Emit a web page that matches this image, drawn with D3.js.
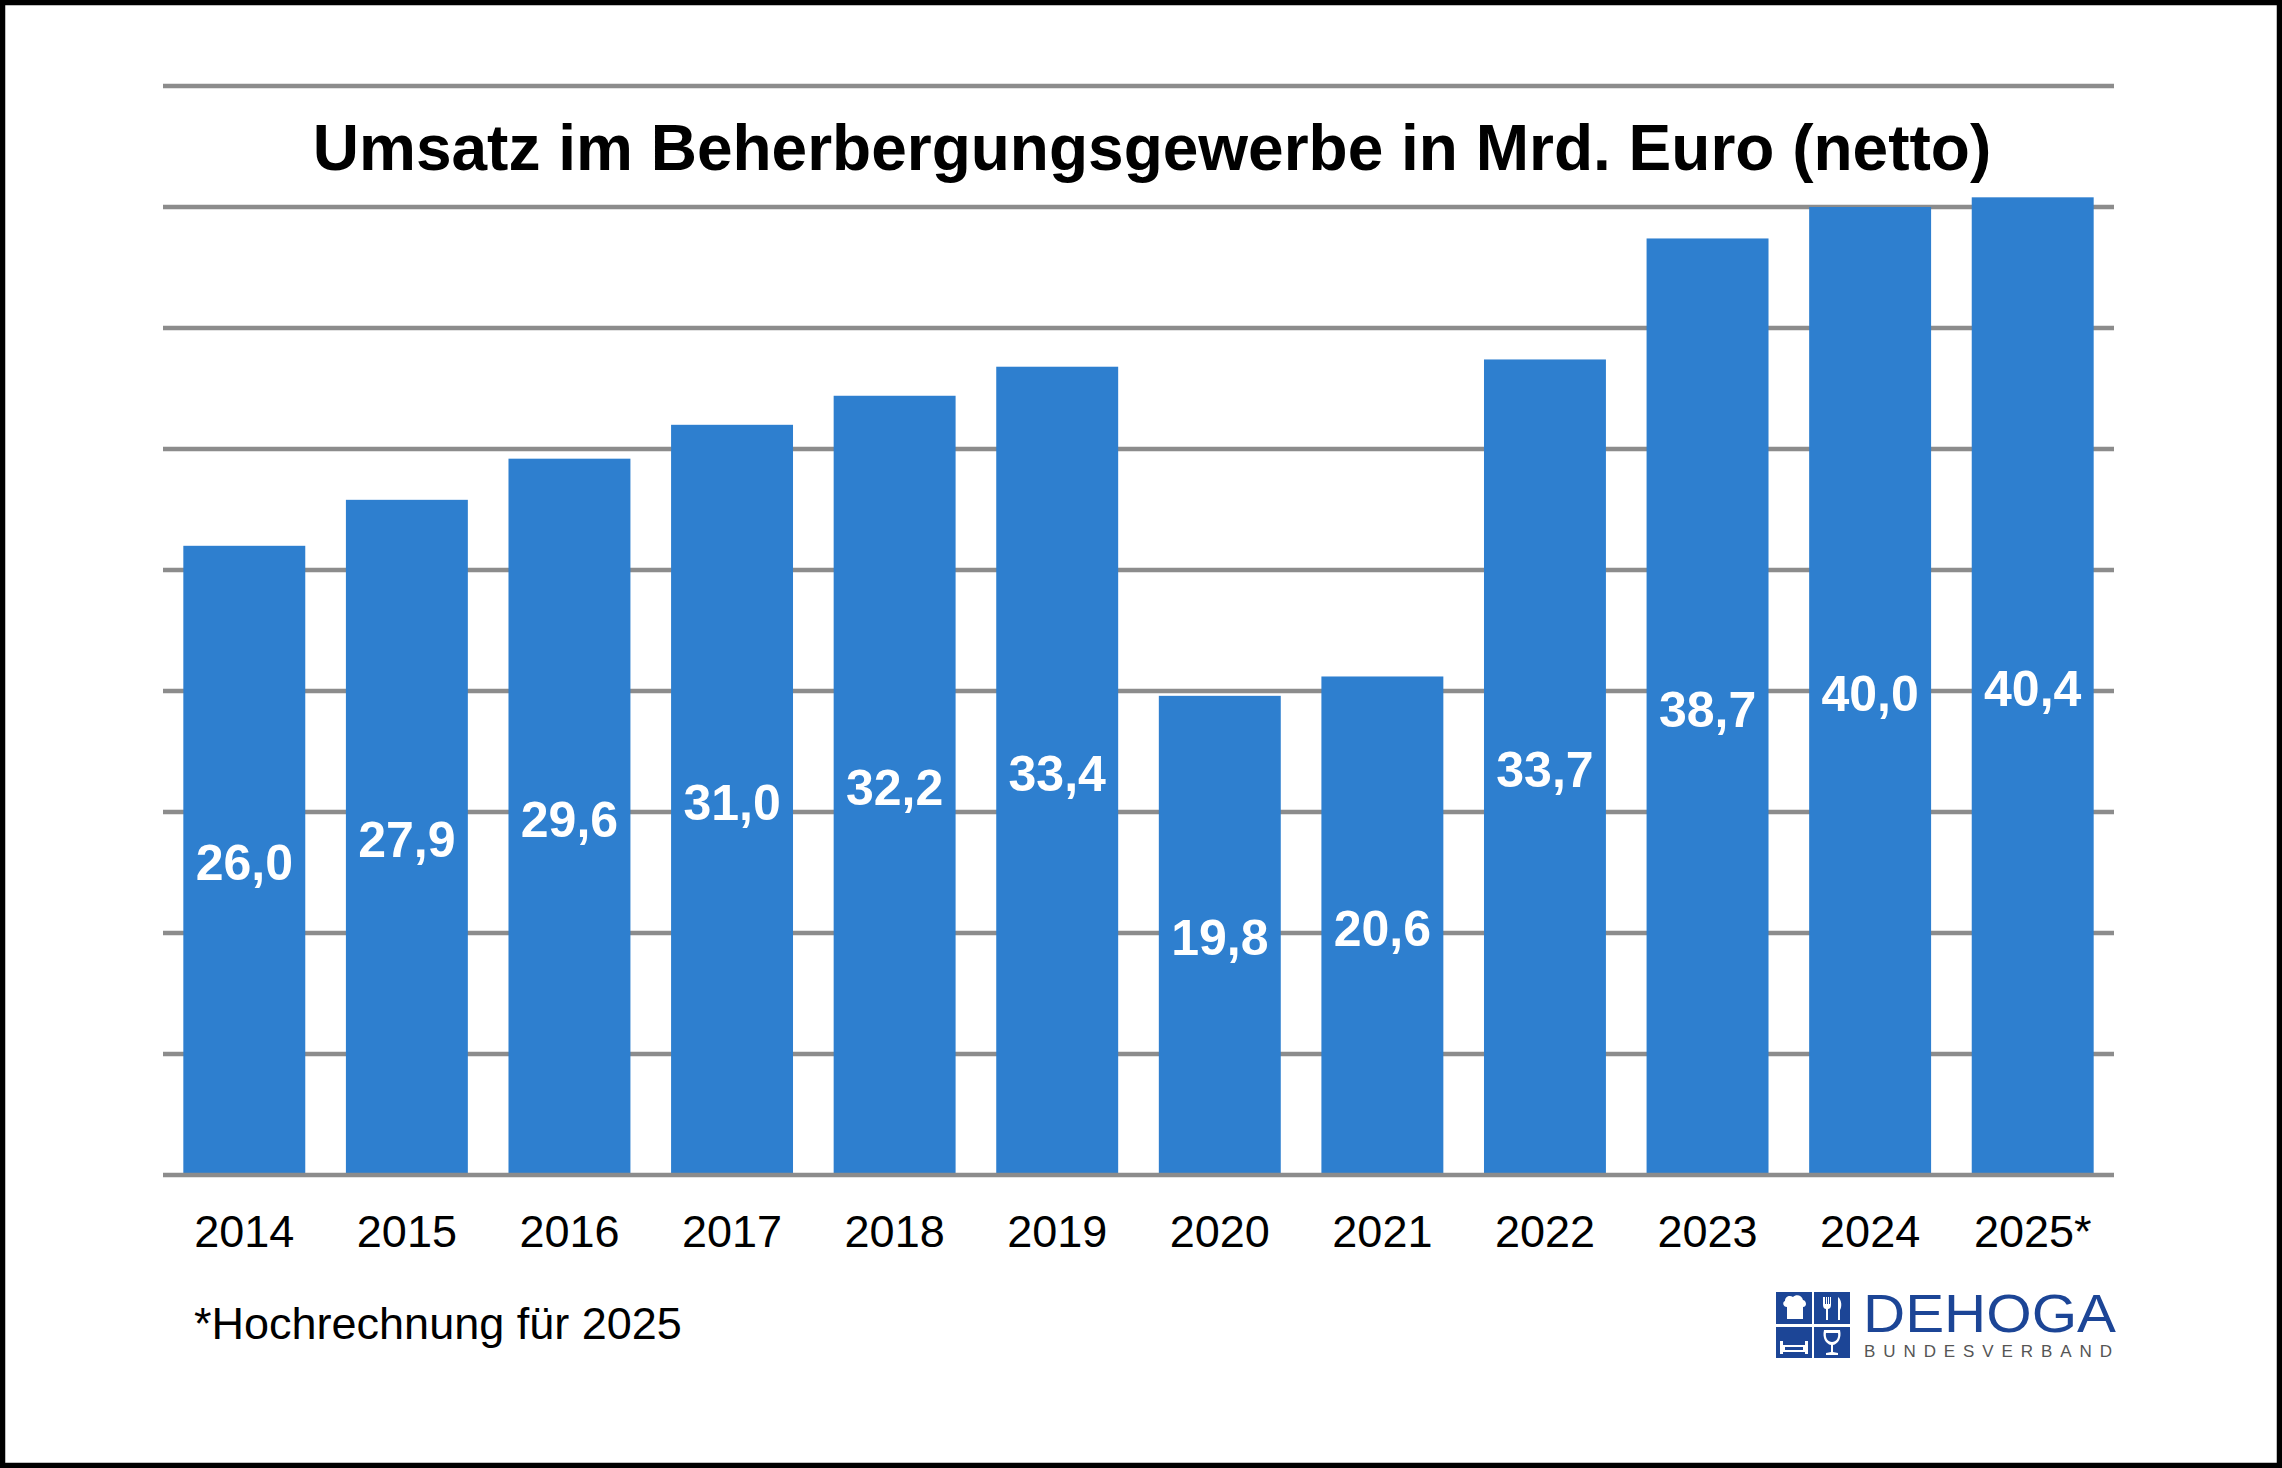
<!DOCTYPE html>
<html>
<head>
<meta charset="utf-8">
<script src="https://cdn.jsdelivr.net/npm/d3@7"></script>
<style>
  html, body { margin: 0; padding: 0; background: #fff; }
  svg { display: block; }
</style>
</head>
<body>
<div class="bar-chart"></div>
<script>
// Umsatz im Beherbergungsgewerbe, Mrd. Euro netto
let years = ['2014', '2015', '2016', '2017', '2018', '2019', '2020', '2021', '2022', '2023', '2024', '2025*'];
let umsatz = [26.0, 27.9, 29.6, 31.0, 32.2, 33.4, 19.8, 20.6, 33.7, 38.7, 40.0, 40.4];
let gridValues = [0, 5, 10, 15, 20, 25, 30, 35, 40, 45];

let titleText = 'Umsatz im Beherbergungsgewerbe in Mrd. Euro (netto)';
let footnoteText = '*Hochrechnung für 2025';

const config = {
  width: 2282,
  height: 1468,
  plot: { left: 163, right: 2114, top: 86, bottom: 1175 },
  colors: { bar: '#2e7fcf', grid: '#8c8c8c', logo: '#1c4596', text: '#000' }
};

const de = d3.formatLocale({ decimal: ',', thousands: '.', grouping: [3], currency: ['', ' €'] });
const fmt = de.format('.1f');

function drawLogo(svg) {
  let g = svg.append('g').attr('transform', 'translate(1776,1292)');
  let quads = [[0, 0, 36, 32], [38, 0, 36, 32], [0, 35, 36, 31], [38, 35, 36, 31]];
  g.selectAll('rect.q').data(quads).enter().append('rect')
    .attr('class', 'q')
    .attr('x', d => d[0]).attr('y', d => d[1])
    .attr('width', d => d[2]).attr('height', d => d[3])
    .attr('fill', config.colors.logo);

  // chef hat / mug
  g.append('path')
    .attr('d', 'M9,9 C9,4 14,3 17,5 C20,2 26,3 27,8 C31,9 31,15 27,15 L27,27 L11,27 L11,15 C7,15 6,10 9,9 Z')
    .attr('fill', '#fff');
  // fork and knife
  g.append('path')
    .attr('d', 'M47,5 L47,13 C47,16 49,17 50,17 L50,28 L52,28 L52,17 C53,17 55,16 55,13 L55,5 L54,5 L54,12 L53,12 L53,5 L52,5 L52,12 L51,12 L51,5 L50,5 L50,12 L49,12 L49,5 Z')
    .attr('fill', '#fff');
  g.append('path')
    .attr('d', 'M62,5 C66,8 66,15 64,18 L64,28 L62,28 Z')
    .attr('fill', '#fff');
  // bed
  g.append('path')
    .attr('d', 'M4,49 L7,49 L7,53 L29,53 L29,49 L32,49 L32,62 L29,62 L29,60 L7,60 L7,62 L4,62 Z')
    .attr('fill', '#fff');
  g.append('rect').attr('x', 9).attr('y', 55).attr('width', 18).attr('height', 3).attr('fill', config.colors.logo);
  // wine glass
  g.append('path')
    .attr('d', 'M48,38 L64,38 C66,46 62,52 57,53 L57,60 L62,61 L62,63 L50,63 L50,61 L55,60 L55,53 C50,52 46,46 48,38 Z')
    .attr('fill', '#fff');
  g.append('path')
    .attr('d', 'M50,41 L62,41 C63,46 60,50 56,50 C52,50 49,46 50,41 Z')
    .attr('fill', config.colors.logo);

  svg.append('text')
    .attr('x', 1863).attr('y', 1332)
    .attr('font-family', 'Liberation Sans, Arial, sans-serif')
    .attr('font-size', 54)
    .attr('textLength', 253)
    .attr('lengthAdjust', 'spacingAndGlyphs')
    .attr('fill', config.colors.logo)
    .text('DEHOGA');

  svg.append('text')
    .attr('x', 1864).attr('y', 1357)
    .attr('font-family', 'Liberation Sans, Arial, sans-serif')
    .attr('font-size', 17)
    .attr('textLength', 248)
    .attr('lengthAdjust', 'spacing')
    .attr('fill', '#555')
    .text('BUNDESVERBAND');
}

function renderChart() {
  let p = config.plot;

  let svg = d3.select('.bar-chart').append('svg')
    .attr('width', config.width)
    .attr('height', config.height);

  svg.append('rect')
    .attr('width', config.width).attr('height', config.height)
    .attr('fill', '#fff');

  let x = d3.scaleBand()
    .domain(years)
    .range([p.left, p.right])
    .paddingInner(0.25)
    .paddingOuter(0.125);

  let y = d3.scaleLinear()
    .domain([0, 45])
    .range([p.bottom, p.top]);

  // gridlines behind the bars
  svg.append('g').selectAll('line')
    .data(gridValues.filter(v => v > 0))
    .enter().append('line')
    .attr('x1', p.left).attr('x2', p.right)
    .attr('y1', d => y(d)).attr('y2', d => y(d))
    .attr('stroke', config.colors.grid)
    .attr('stroke-width', 4.5);

  svg.append('g').selectAll('rect')
    .data(umsatz)
    .enter().append('rect')
    .attr('x', (d, i) => x(years[i]))
    .attr('y', d => y(d))
    .attr('width', x.bandwidth())
    .attr('height', d => y(0) - y(d))
    .attr('fill', config.colors.bar);

  // baseline on top of bars
  svg.append('line')
    .attr('x1', p.left).attr('x2', p.right)
    .attr('y1', y(0)).attr('y2', y(0))
    .attr('stroke', config.colors.grid)
    .attr('stroke-width', 4.5);

  svg.append('g').selectAll('text')
    .data(umsatz)
    .enter().append('text')
    .attr('x', (d, i) => x(years[i]) + x.bandwidth() / 2)
    .attr('y', d => (y(d) + y(0)) / 2 + 20)
    .attr('text-anchor', 'middle')
    .attr('font-family', 'Liberation Sans, Arial, sans-serif')
    .attr('font-weight', 'bold')
    .attr('font-size', 50)
    .attr('fill', '#fff')
    .text(d => fmt(d));

  let xAxis = d3.axisBottom(x).tickSize(0).tickPadding(0);
  let axisG = svg.append('g')
    .attr('transform', 'translate(0,1247)')
    .call(xAxis);
  axisG.select('.domain').remove();
  axisG.selectAll('.tick text')
    .attr('y', 0).attr('dy', 0)
    .attr('font-family', 'Liberation Sans, Arial, sans-serif')
    .attr('font-size', 45)
    .attr('fill', config.colors.text);

  svg.append('text')
    .attr('x', 1152).attr('y', 170)
    .attr('text-anchor', 'middle')
    .attr('font-family', 'Liberation Sans, Arial, sans-serif')
    .attr('font-weight', 'bold')
    .attr('font-size', 64)
    .attr('fill', config.colors.text)
    .text(titleText);

  svg.append('text')
    .attr('x', 194).attr('y', 1339)
    .attr('font-family', 'Liberation Sans, Arial, sans-serif')
    .attr('font-size', 45)
    .attr('fill', config.colors.text)
    .text(footnoteText);

  drawLogo(svg);

  svg.append('rect')
    .attr('x', 2.5).attr('y', 2.5)
    .attr('width', config.width - 5).attr('height', config.height - 5)
    .attr('fill', 'none')
    .attr('stroke', '#000')
    .attr('stroke-width', 5.5);
}

renderChart();
</script>
</body>
</html>
